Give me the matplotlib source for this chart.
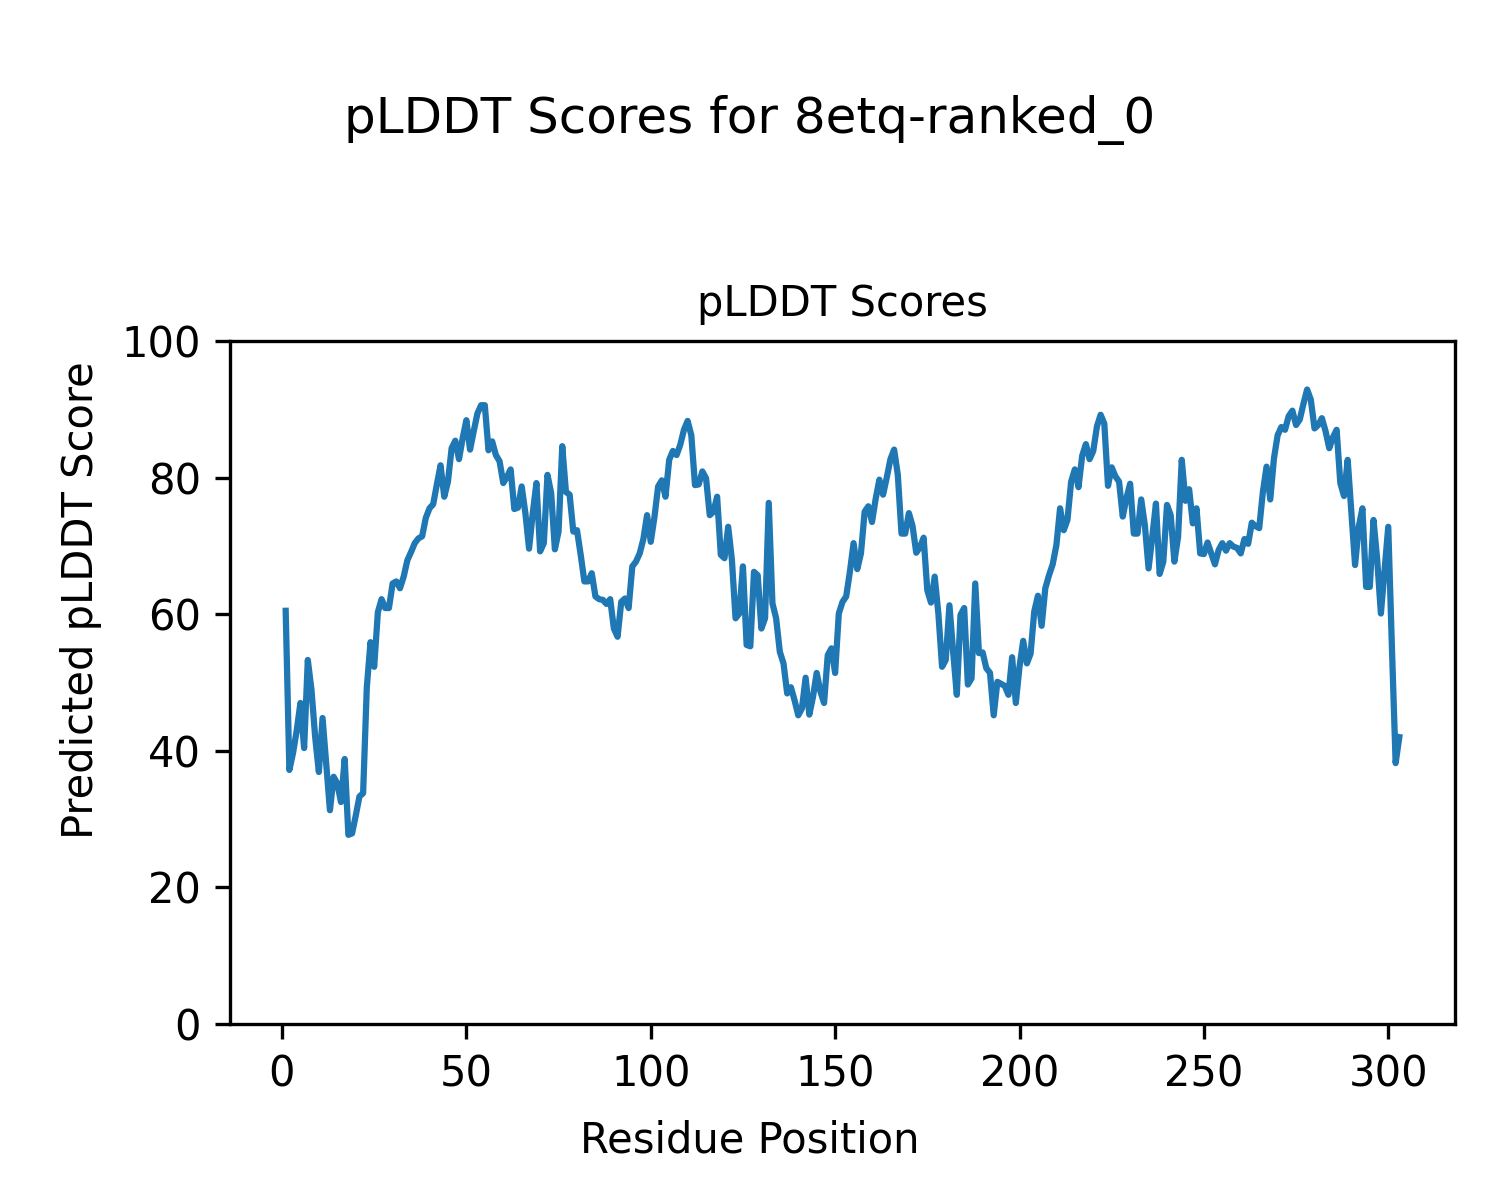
import matplotlib
matplotlib.use("Agg")
import matplotlib.pyplot as plt
import numpy as np

# pLDDT score per residue (residues 1..303)
plddt = [
    60.5, 37.2, 39.7, 43.0, 47.0, 40.4, 53.3, 48.9, 42.0, 36.9,
    44.8, 38.0, 31.3, 36.2, 35.2, 32.5, 38.8, 27.7, 27.9, 30.5,
    33.3, 33.8, 49.3, 55.9, 52.3, 60.3, 62.2, 60.9, 60.9, 64.5,
    64.8, 63.8, 65.5, 67.9, 69.1, 70.4, 71.1, 71.4, 74.1, 75.5,
    76.1, 79.0, 81.8, 77.2, 79.4, 84.3, 85.4, 82.7, 85.8, 88.4,
    84.1, 86.8, 89.4, 90.6, 90.6, 84.0, 85.3, 83.3, 82.4, 79.2,
    80.1, 81.2, 75.4, 75.6, 78.7, 74.8, 69.6, 74.8, 79.2, 69.2,
    70.4, 80.4, 77.7, 69.5, 72.1, 84.6, 77.9, 77.5, 72.1, 72.3,
    68.7, 64.8, 64.8, 66.0, 62.6, 62.2, 62.1, 61.5, 62.2, 57.9,
    56.7, 61.8, 62.3, 60.9, 67.0, 67.7, 68.9, 71.0, 74.5, 70.6,
    74.2, 78.7, 79.6, 77.2, 82.6, 83.9, 83.3, 84.8, 87.0, 88.3,
    86.2, 78.9, 79.0, 80.9, 79.9, 74.5, 75.0, 77.2, 68.7, 68.2,
    72.8, 68.0, 59.4, 60.1, 67.0, 55.5, 55.3, 66.2, 65.7, 57.9,
    59.4, 76.3, 61.6, 59.4, 54.5, 52.8, 48.4, 49.3, 47.4, 45.2,
    46.2, 50.7, 45.3, 47.9, 51.4, 48.7, 47.0, 54.0, 55.0, 51.4,
    60.1, 61.8, 62.6, 66.2, 70.4, 66.6, 68.9, 75.0, 75.8, 73.5,
    76.9, 79.7, 77.5, 80.0, 82.7, 84.1, 80.4, 71.8, 71.8, 74.8,
    72.9, 69.0, 69.8, 71.2, 63.5, 61.7, 65.5, 60.1, 52.3, 53.3,
    61.3, 54.5, 48.2, 59.9, 60.9, 49.7, 50.6, 64.5, 54.3, 54.4,
    52.1, 51.4, 45.2, 50.1, 49.8, 49.5, 48.2, 53.7, 47.0, 52.3,
    56.1, 52.8, 54.2, 60.4, 62.7, 58.3, 63.8, 65.7, 67.3, 70.1,
    75.5, 72.3, 73.8, 79.4, 81.2, 78.6, 83.2, 84.9, 82.7, 83.9,
    87.5, 89.2, 87.9, 78.8, 81.5, 80.2, 79.4, 74.3, 77.0, 79.1,
    71.8, 71.8, 76.8, 73.0, 66.7, 71.3, 76.2, 65.9, 67.7, 76.0,
    74.5, 67.7, 71.3, 82.6, 76.6, 78.3, 73.3, 75.5, 68.9, 68.8,
    70.5, 68.9, 67.3, 69.4, 70.4, 69.3, 70.4, 69.9, 69.7, 68.9,
    71.0, 70.3, 73.4, 72.9, 72.6, 77.9, 81.6, 76.8, 82.8, 86.2,
    87.4, 87.0, 89.0, 89.8, 87.7, 88.5, 90.8, 92.9, 91.4, 87.2,
    87.7, 88.7, 86.8, 84.3, 85.9, 87.0, 79.2, 77.3, 82.6, 75.0,
    67.2, 72.8, 75.5, 64.0, 64.0, 73.8, 68.0, 60.1, 66.5, 72.8,
    55.0, 38.2, 42.0,
]
residues = np.arange(1, len(plddt) + 1)

suptitle_text = "pLDDT Scores for 8etq-ranked_0"
title_text = "pLDDT Scores"
xlabel_text = "Residue Position"
ylabel_text = "Predicted pLDDT Score"

fig = plt.figure(figsize=(5, 4), dpi=300)
ax = fig.add_axes([230 / 1500, 1 - 1024 / 1200, (1455 - 230) / 1500, (1024 - 341) / 1200])
ax.plot(residues, plddt, color="#1f77b4", linewidth=1.5)
ax.set_ylim(0, 100)
ax.set_title(title_text, fontsize=10)
fig.supxlabel(xlabel_text, fontsize=10, y=0.032)
fig.supylabel(ylabel_text, fontsize=10, x=0.04)
fig.suptitle(suptitle_text, fontsize=12, y=0.921)

fig.savefig("out.png", dpi=300)
